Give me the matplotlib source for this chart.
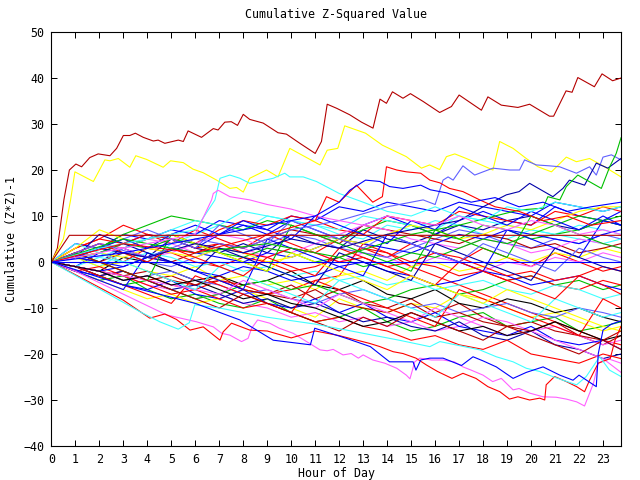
import matplotlib
matplotlib.use("Agg")
import matplotlib.pyplot as plt
import numpy as np

plt.rcParams['font.family'] = ['DejaVu Sans Mono']

# ---- colours (gnuplot-like palette) ----
RED = '#ff0000'; DRED = '#b40000'; GREEN = '#00c000'; BLUE = '#0000ff'
NAVY = '#0000a8'; LBLUE = '#6060ff'; PINK = '#ff60ff'; CYAN = '#40ffff'
YEL = '#ffff00'; BLACK = '#000000'

# ---- traced prominent series (hour, value) ----
top_h = [0, 0.25, 0.52, 0.75, 1.02, 1.26, 1.6, 1.95, 2.44, 2.72, 3.0, 3.27, 3.5, 3.83, 4.25, 4.45, 4.73,
         5.29, 5.5, 5.7, 6.26, 6.75, 6.95, 7.23, 7.5, 7.76, 8.0, 8.27, 8.83, 9.45, 9.8, 10.36, 11.0, 11.26,
         11.5, 11.9, 12.44, 12.93, 13.41, 13.7, 13.97, 14.22, 14.66, 14.97, 15.5, 16.19, 16.68, 17.0, 17.93,
         18.2, 18.76, 19.45, 19.94, 20.77, 20.94, 21.46, 21.71, 21.95, 22.64, 22.96, 23.4, 23.75]
top_v = [0, 3, 13.5, 20, 21.3, 20.7, 22.7, 23.5, 23.1, 24.7, 27.5, 27.5, 28, 27.1, 26.3, 26.5, 25.8,
         26.5, 26.2, 28.5, 27.1, 29, 28.7, 30.4, 30.5, 29.7, 32.1, 31, 30.2, 28.1, 27.8, 25.8, 23.6, 26.2,
         34.3, 33.4, 32, 30.4, 29.1, 35.4, 34.5, 37, 35.6, 36.6, 34.9, 32.5, 33.8, 36.3, 33,
         35.9, 34.1, 33.6, 34.3, 31.7, 31.7, 37.2, 36.9, 40.1, 38.1, 40.9, 39.4, 40]

yel_h = [0, 0.5, 0.8, 0.98, 1.75, 2.23, 2.44, 2.79, 3.27, 3.52, 3.97, 4.66, 4.97, 5.5, 5.9, 6.33, 6.89, 7.44,
         7.72, 8.0, 8.27, 8.97, 9.45, 9.94, 11.2, 11.5, 11.94, 12.23, 13.1, 13.8, 14.8, 15.43, 15.77, 16.19,
         16.47, 16.82, 17.3, 17.93, 18.41, 18.69, 19.25, 19.8, 20.29, 20.85, 21.47, 21.89, 22.44, 23.0, 23.75]
yel_v = [0, 5, 13.5, 19.6, 17.5, 22.2, 22, 22.5, 20.6, 23.1, 22.3, 20.6, 22, 21.6, 20.2, 19.4, 17.8, 16,
         16.2, 15.2, 18.2, 20, 18.5, 24.7, 21.1, 24.3, 24.7, 29.6, 28, 25.4, 22.9, 20.4, 21.1, 20.1,
         22.9, 23.5, 22.5, 21.1, 20, 26.2, 24.7, 22.5, 20.7, 19.6, 22.8, 21.8, 22.5, 20.9, 18.5]

lb_h = [0, 2, 4, 6, 8, 10, 12, 14, 15.5, 16.0, 16.33, 16.54, 16.75, 17.16, 17.65, 18.0, 18.41, 19.11, 19.52,
        19.73, 20.22, 20.78, 21.19, 21.89, 22.44, 22.72, 23.0, 23.35, 23.75]
lb_v = [0, 4, 1, 5, 3, 7, 9, 12, 13.5, 12.5, 17.8, 18.5, 17.8, 20.9, 18.9, 19.6, 20.4, 20, 20,
        22.2, 21.1, 20.9, 20.7, 19.3, 20.7, 18.9, 22.8, 23.3, 22.2]

nv_h = [0, 2, 4, 6, 8, 10, 12, 14, 16, 17, 18, 18.97, 19.5, 19.94, 20.91, 21.33, 21.6, 22.23, 22.72, 23.2, 23.75]
nv_v = [0, 3, 1, 4, 2, 5, 3, 6, 8, 9, 12, 14.6, 15.3, 17.1, 14.2, 16, 17.8, 16.7, 21.5, 20.4, 22.5]

gr_h = [0, 3, 6, 9, 12, 15, 17, 18.5, 19.5, 20.5, 20.7, 21.2, 21.47, 21.95, 22.93, 23.28, 23.55, 23.75]
gr_v = [0, 5, 2, 4, 1, 6, 8, 10, 11.3, 11.7, 14.2, 13.5, 16.4, 18.9, 16, 20.7, 23.6, 27]

cyu_h = [0, 2, 4, 6, 6.82, 7.03, 7.44, 7.86, 8.27, 9.25, 9.73, 9.94, 10.5, 11.05, 11.6, 12.0, 13, 14, 15,
         16, 17, 18, 19, 20, 21, 22, 23, 23.75]
cyu_v = [0, 3, 5, 7, 13.5, 18.2, 18.9, 18.2, 17.1, 18.2, 19.3, 18.5, 18.5, 17.5, 16, 14.9, 13, 11, 10,
         12, 10, 9, 12, 11, 13, 12, 11, 12]

pku_h = [0, 2, 4, 6, 6.68, 6.75, 6.95, 7.44, 8.27, 9, 10, 11, 12, 13, 14, 15, 16, 17, 18, 19, 20, 21, 22,
         23, 23.75]
pku_v = [0, 2, 4, 6, 13.5, 14.9, 15.6, 14.2, 13.5, 12.5, 11.5, 10, 9, 8, 10, 9, 8, 10, 8, 7, 9, 8, 6, 7, 6]

rdu_h = [0, 3, 6, 9, 11, 11.47, 12, 12.72, 13.4, 13.8, 13.97, 14.4, 14.8, 15.4, 15.78, 16.2, 16.6, 17.16,
         17.86, 18.5, 19.5, 20.5, 21.5, 22.5, 23.75]
rdu_v = [0, 4, 2, 6, 9, 14.2, 13, 16.7, 13, 14.2, 20.7, 20, 19.6, 19.3, 17.8, 17.2, 16, 15.3,
         13.5, 12, 11, 9, 10, 8, 9]

blu_h = [0, 3, 6, 9, 11, 12, 12.44, 13.1, 13.7, 14.1, 14.66, 15.4, 15.8, 16.5, 17.5, 18.5, 19.5, 20.5,
         21.5, 22.5, 23.75]
blu_v = [0, 2, 5, 8, 10, 13, 15.6, 17.8, 17.5, 16.4, 16, 16.7, 15.7, 15, 13, 14, 12, 13, 11, 12, 13]

pk_h = [0, 1, 2, 3, 4, 4.8, 6.05, 6.75, 7.1, 7.44, 7.93, 8.2, 8.35, 8.6, 9.1, 9.5, 10.08, 10.64, 11.2, 11.5,
        11.75, 12.16, 12.5, 12.8, 13.0, 13.4, 13.9, 14.4, 14.8, 14.95, 15.15, 15.36, 15.85, 16.33, 16.8,
        17.16, 17.5, 18.0, 18.4, 18.76, 19.25, 19.5, 19.94, 20.5, 21.05, 21.47, 21.9, 22.23, 22.6, 22.8,
        23.2, 23.75]
pk_v = [0, -2, -4.5, -7, -9.5, -11.5, -13, -14.1, -15.5, -15.9, -17.3, -16.6, -14.4, -12.6, -13.3, -14.4,
        -15.5, -17.3, -19.1, -19.3, -19, -20.2, -19.9, -20.9, -20.2, -21.3, -22, -23.1, -24.6, -25.4, -21.7,
        -20.9, -21.3, -21.3, -21.7, -22.8, -23.5, -24.6, -26, -25.3, -27.8, -27.5, -28.5, -29.3, -29.4,
        -29.8, -30.4, -31.3, -26.4, -22, -21, -22]

rb_h = [0, 3, 4.1, 4.73, 5.22, 5.78, 6.33, 7.03, 7.16, 7.51, 8.27, 9, 10, 11, 12, 13.27, 13.7, 14.25, 14.66,
        15.2, 15.64, 16.1, 16.7, 17.16, 17.7, 18.2, 18.7, 19.1, 19.45, 19.94, 20.36, 20.57, 20.63, 20.98,
        21.47, 21.9, 22.23, 22.44, 22.8, 23.3, 23.5, 23.75]
rb_v = [0, -8.3, -12.2, -11.3, -12.5, -14.8, -14.1, -17, -15.2, -13.3, -14.8, -15, -16.5, -15, -16, -17.7,
        -18.4, -19.5, -19.9, -20.9, -22.4, -23.8, -25.3, -24.2, -25.3, -27.1, -28.2, -29.8, -29.3, -30,
        -29.6, -30, -26.7, -24.9, -26, -27.1, -28.2, -25.7, -22, -21, -17, -14]

cy_h = [0, 3.69, 4.52, 5.29, 5.75, 5.98, 7, 9, 11, 13, 14.5, 15.78, 16.2, 17.86, 18.55, 19.25, 19.8, 20.36,
        20.9, 21.33, 21.9, 22.3, 22.86, 23.27, 23.75]
cy_v = [0, -10.8, -13, -14.6, -13.2, -9.3, -10, -12, -13.5, -15.5, -17, -18.4, -17.3, -19.1, -20.6, -21.7,
        -23.1, -23.8, -24.9, -25.7, -26.7, -24.9, -20.6, -23.5, -24.9]

bl_h = [0, 3, 6, 7.86, 9.25, 10.8, 10.98, 12.3, 13.3, 14.1, 15.08, 15.2, 15.4, 15.78, 16.33, 17.1, 17.58,
        18.0, 18.55, 19.25, 19.8, 20.5, 21.2, 21.75, 22.0, 22.72, 22.8, 23.0, 23.35, 23.75]
bl_v = [0, -5, -9, -12.6, -17, -18, -14.4, -16.6, -18.4, -21.7, -21.7, -23.5, -21.3, -20.9, -20.9, -22.5,
        -20.6, -21.5, -22.8, -25.3, -24, -22.8, -24.6, -25.7, -24.6, -27.1, -20, -14.8, -13.5, -12.8]

flat_h = [0, 0.75, 23.75]
flat_v = [0, 5.8, 5.8]
zero_h = [0, 23.75]
zero_v = [0, 0]

traced = [(top_h, top_v, DRED), (yel_h, yel_v, YEL), (lb_h, lb_v, LBLUE), (nv_h, nv_v, NAVY),
          (gr_h, gr_v, GREEN), (cyu_h, cyu_v, CYAN), (pku_h, pku_v, PINK), (rdu_h, rdu_v, RED),
          (blu_h, blu_v, BLUE), (pk_h, pk_v, PINK), (rb_h, rb_v, RED), (cy_h, cy_v, CYAN),
          (bl_h, bl_v, BLUE), (flat_h, flat_v, DRED), (zero_h, zero_v, BLUE)]

# ---- hourly readings of the remaining tangle ----
hours = list(range(24)) + [23.75]
f01 = [0, 3, 5, 8, 6, 4, 7, 5, 3, 6, 4, 2, 5, 3, 1, 4, 2, 0, 3, 1, -1, 2, 0, -2, -1]
f02 = [0, -1, 2, 4, 6, 5, 3, 6, 8, 6, 9, 7, 5, 8, 10, 8, 6, 9, 11, 9, 8, 12, 10, 9, 11]
f03 = [0, -2, -4, -3, -6, -8, -7, -9, -10, -8, -11, -13, -12, -10, -13, -15, -14, -12, -11, -14, -13, -12, -15, -14, -13]
f04 = [0, 2, 1, 3, 5, 4, 2, 4, 3, 1, 3, 2, 0, 2, 1, -1, 1, 0, -2, 0, -1, 1, 0, 2, 1]
f05 = [0, 1, -1, 2, 0, 4, 6, 8, 7, 10, 9, 8, 6, 5, 8, 7, 9, 8, 6, 5, 7, 6, 8, 7, 6]
f06 = [0, -1, -3, -2, -4, -3, -5, -4, -6, -7, -5, -8, -6, -9, -10, -8, -11, -9, -12, -14, -13, -15, -16, -18, -16]
f07 = [0, 2, 0, 3, 1, 5, 3, 2, 4, 2, 6, 4, 3, 7, 5, 4, 6, 8, 7, 9, 10, 8, 7, 9, 8]
f08 = [0, -2, -4, -6, -8, -7, -9, -8, -6, -8, -10, -12, -8, -10, -11, -9, -10, -7, -8, -10, -12, -11, -13, -15, -14]
f09 = [0, 1, 3, 2, 0, -1, 1, 3, 2, 4, 6, 5, 3, 2, 1, 3, 5, 7, 6, 4, 3, 5, 4, 6, 5]
f10 = [0, -1, -2, -4, -3, -5, -6, -4, -5, -7, -6, -4, -3, 4, 2, -1, -3, -5, -7, -9, -11, -13, -15, -17, -18]
f11 = [0, 4, 3, 6, 5, 7, 6, 9, 8, 7, 10, 9, 12, 11, 13, 12, 11, 13, 12, 11, 10, 13, 12, 11, 12]
f12 = [0, 1, 3, 6, 8, 10, 9, 8, 7, 9, 8, 6, 5, 7, 9, 8, 6, 5, 8, 7, 5, 6, 7, 9, 8]
f13 = [0, -1, -2, 1, 0, -2, -4, -3, -5, -4, -2, -5, -6, -4, -7, -8, -6, -9, -10, -8, -9, -11, -10, -12, -13]
f14 = [0, -1, -2, -3, -5, -6, -8, -7, -9, -10, -12, -11, -13, -12, -14, -13, -15, -14, -12, -13, -15, -14, -16, -18, -17]
f15 = [0, 2, 4, 3, 5, 6, 4, 7, 9, 8, 10, 9, 7, 6, 10, 9, 8, 11, 10, 9, 8, 11, 10, 12, 11]
f16 = [0, -1, 1, 3, 5, 7, 9, 8, 11, 10, 9, 8, 7, 10, 9, 8, 7, 10, 9, 8, 7, 6, 5, 4, 5]
f17 = [0, -2, -3, -5, -6, -4, -7, -8, -6, -9, -10, -8, -11, -9, -12, -13, -11, -14, -15, -16, -14, -17, -18, -17, -19]
f18 = [0, 1, -1, 0, -2, -3, -1, -4, -3, -5, -4, -6, -3, -2, -4, -1, 0, -2, -1, 1, 0, 2, 1, 3, 2]
f19 = [0, 1, 0, 2, 1, 0, 2, 4, 3, 5, 7, 6, 4, 8, 7, 6, 5, 4, 6, 5, 3, 4, 2, 3, 4]
f20 = [0, -1, -3, -5, -4, -6, -8, -7, -5, -4, -6, -5, -7, -9, -8, -6, -5, -7, -6, -4, -3, -5, -4, -6, -5]
f21 = [0, 1, 2, 0, 3, 2, 0, -1, 1, 0, -2, -1, 1, 3, 2, 0, -1, -3, -2, -4, -3, -5, -6, -4, -5]
f22 = [0, 1, 0, -1, 1, 3, 2, 1, 0, 2, 1, 3, 5, 4, 3, 2, 4, 6, 5, 7, 6, 5, 4, 6, 7]
f23 = [0, -1, -2, -4, -3, -2, -4, -5, -7, -6, -8, -9, -7, -6, -8, -10, -9, -11, -10, -9, -11, -12, -10, -11, -12]
f24 = [0, 2, 4, 3, 1, 2, 4, 6, 5, 3, 2, 4, 6, 8, 7, 5, 4, 3, 5, 4, 2, 3, 5, 4, 3]
f25 = [0, -1, -3, -2, -4, -6, -5, -7, -9, -8, -10, -9, -11, -13, -12, -14, -15, -13, -16, -17, -15, -18, -19, -21, -20]
f26 = [0, -2, -1, -3, -5, -7, -6, -8, -10, -9, -11, -13, -12, -14, -15, -17, -16, -18, -19, -17, -20, -21, -22, -20, -21]
f27 = [0, 2, 1, 0, 2, 1, -1, 0, -2, -1, -3, -2, -4, -3, -5, -4, -6, -5, -4, -6, -7, -5, -6, -8, -7]
f28 = [0, 1, 2, 4, 3, 5, 4, 2, 1, 3, 2, 0, 1, -1, 0, 2, 1, 3, 5, 4, 6, 8, 10, 9, 10]
f29 = [0, -1, -2, -1, 1, 0, -2, -3, -1, -2, -4, -3, -1, 0, -2, -3, -5, -4, -2, -3, -5, -4, -3, -5, -6]
f30 = [0, 1, 2, 1, 3, 2, 1, 3, 2, 0, 1, 3, 5, 4, 6, 8, 7, 5, 6, 8, 7, 9, 11, 12, 12]
f31 = [0, 3, 5, 4, 6, 5, 3, 4, 2, 1, 3, 2, 0, 1, -1, 0, 2, 1, -1, -3, -2, -4, -3, -1, -2]
f32 = [0, -1, -2, -3, -2, -4, -5, -3, -6, -7, -8, -6, -9, -10, -11, -9, -12, -11, -13, -14, -15, -13, -16, -17, -19]
f33 = [0, -2, -4, -6, 2, 0, -2, -4, -6, 5, 3, 1, -1, -3, 6, 4, 2, 0, -2, 7, 5, 3, 1, 9, 8]
f34 = [0, -1, -3, -5, -7, -9, -3, -5, -7, -9, -11, -4, -6, -8, -10, -12, -14, -6, -8, -10, -12, -14, -16, -8, -10]
f35 = [0, 2, 0, -2, -4, 6, 4, 2, 0, -2, 8, 6, 4, 2, 0, -2, 7, 5, 3, 1, 10, 8, 6, 4, 3]
f36 = [0, -1, -2, -3, -4, -5, -6, -7, -4, -6, -8, -10, -7, -9, -11, -13, -10, -12, -14, -16, -15, -17, -19, -21, -24]
f37 = [0, 1, 6, 4, 2, 0, -2, 3, 1, -1, -3, -5, 2, 0, -2, -4, 4, 2, 0, -2, -4, 3, 1, -1, -2]
f38 = [0, 4, 2, 0, -2, -4, -6, -1, -3, -5, -7, -9, -4, -6, -8, -10, -12, -7, -9, -11, -13, -8, -10, -12, -11]
f39 = [0, 2, 4, 2, 0, 3, 1, -1, -3, 1, -1, -3, 3, 1, -1, -3, -5, 0, -2, -4, -6, -8, -3, -5, -7]
f40 = [0, 1, 3, 5, 7, 5, 3, 8, 6, 4, 9, 7, 5, 3, 6, 4, 2, 0, 4, 2, 0, -2, 3, 1, 0]
f41 = [0, -1, -2, -4, -3, -5, -4, -6, -8, -7, -9, -10, -12, -14, -13, -11, -13, -15, -14, -16, -15, -13, -15, -17, -16]
f42 = [0, 3, 7, 5, 3, 6, 4, 2, 0, -2, 2, 0, -2, -4, -6, -3, -5, -7, -9, -6, -8, -10, -12, -14, -15]
f43 = [0, 2, 0, -2, -4, -6, -8, -10, -7, -9, -11, -13, -15, -12, -14, -11, -13, -15, -17, -14, -16, -18, -20, -17, -15]
f44 = [0, 1, 3, 5, 3, 6, 8, 6, 9, 7, 5, 10, 8, 6, 4, 9, 7, 12, 10, 8, 11, 9, 7, 10, 8]

fillers = [(f01, RED), (f02, BLUE), (f03, GREEN), (f04, PINK), (f05, CYAN), (f06, DRED), (f07, NAVY),
           (f08, YEL), (f09, LBLUE), (f10, RED), (f11, BLUE), (f12, GREEN), (f13, BLACK), (f14, PINK),
           (f15, RED), (f16, CYAN), (f17, BLUE), (f18, YEL), (f19, DRED), (f20, GREEN), (f21, RED),
           (f22, BLUE), (f23, LBLUE), (f24, PINK), (f25, NAVY), (f26, RED), (f27, CYAN), (f28, GREEN),
           (f29, BLUE), (f30, YEL), (f31, RED), (f32, DRED), (f33, BLUE), (f34, RED), (f35, GREEN),
           (f36, PINK), (f37, NAVY), (f38, CYAN), (f39, RED), (f40, LBLUE), (f41, BLACK), (f42, YEL),
           (f43, DRED), (f44, BLUE)]

x_ticks = list(range(24))
y_ticks = list(range(-40, 51, 10))

fig = plt.figure(figsize=(6.4, 4.8), dpi=100)
ax = fig.add_axes([51.4 / 640, 1 - 446 / 480, (621 - 51.4) / 640, (446 - 32) / 480])

lw = 0.8
for vals, c in fillers:
    ax.plot(hours, vals, color=c, lw=lw, antialiased=True)
for h, v, c in traced:
    ax.plot(h, v, color=c, lw=lw, antialiased=True)

ax.set_xlim(0, 23.75)
ax.set_ylim(-40, 50)
ax.set_xticks(x_ticks)
ax.set_yticks(y_ticks)
ax.tick_params(direction='in', top=True, right=True, length=4.5, width=0.72,
               labelsize=8.4, pad=5)
for s in ax.spines.values():
    s.set_linewidth(0.8)
ax.set_title('Cumulative Z-Squared Value', fontsize=8.4, pad=10)
ax.set_xlabel('Hour of Day', fontsize=8.4, labelpad=1)
ax.set_ylabel('Cumulative (Z*Z)-1', fontsize=8.4, labelpad=4)

fig.savefig('out.png', dpi=100)
